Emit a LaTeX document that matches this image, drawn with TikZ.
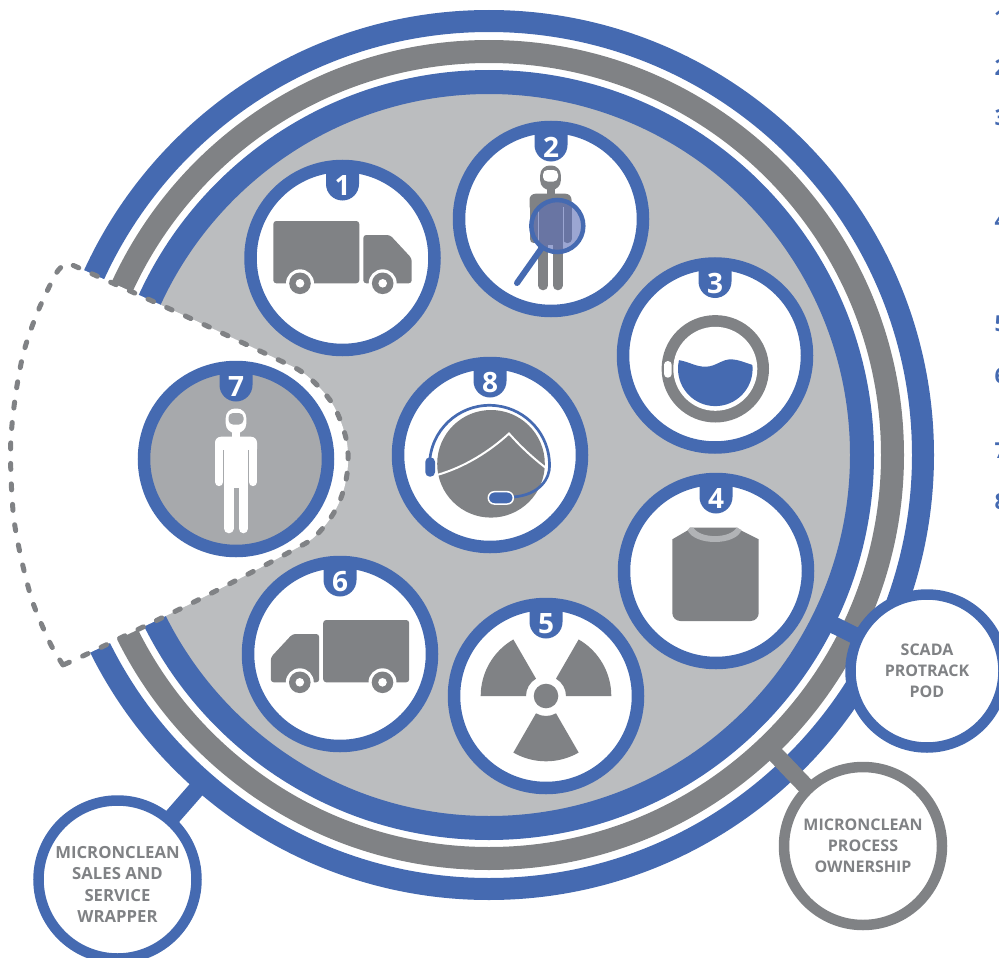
\documentclass[tikz,border=0pt]{standalone}
\usepackage{fontspec}
\setmainfont{Open Sans}
\usetikzlibrary{calc}
\definecolor{mblue}{HTML}{456AB1}
\definecolor{mgray}{HTML}{808285}
\definecolor{mfill}{HTML}{BBBDBF}
\definecolor{mdisc}{HTML}{A7A9AC}
\definecolor{mcollar}{HTML}{B1B3B6}
\definecolor{mlens}{HTML}{5C6EB7}
\tikzset{
  stage/.style={circle,draw=mblue,line width=12.5pt,fill=white,minimum size=184pt,inner sep=0pt,outer sep=0pt},
  sat/.style={circle,line width=10.5pt,fill=white,inner sep=0pt,outer sep=0pt},
  sattext/.style={text=mgray,align=center,inner sep=0pt,font=\fontsize{16}{21.2}\selectfont\bfseries},
  bar/.style={line width=17pt},
  tabnum/.style={text=white,font=\fontsize{28}{28}\selectfont\bfseries,inner sep=0pt},
  sidenum/.style={text=mblue,font=\fontsize{22}{22}\selectfont\bfseries,inner sep=0pt,anchor=west},
  cutline/.style={draw=mgray,line width=5pt,line cap=round,dash pattern=on 6pt off 14.5pt,fill=white}
}
\newcommand{\truckicon}[3]{%
  \begin{scope}[shift={(#1,#2)},xscale=#3]
    \fill[mgray,rounded corners=3pt] (-69.2,-37) rectangle (16.8,25.3);
    \fill[mgray,rounded corners=3pt] (20.8,-23) -- (47.5,-23) -- (69.2,0.3) -- (69.2,25.3) -- (20.8,25.3) -- cycle;
    \foreach \wx in {-42.5,40.2}{
      \fill[white] (\wx,25.3) circle[radius=14];
      \fill[mgray] (\wx,25.3) circle[radius=10.8];
      \fill[white] (\wx,25.3) circle[radius=4.3];
    }
  \end{scope}
}
\newcommand{\stagetab}[3]{%
  \fill[mblue] ($(#1)+(-16.5,-90)$) -- ($(#1)+(-16.5,-74)$) arc[start angle=180,end angle=0,radius=16.5] -- ($(#1)+(16.5,-90)$) -- cycle;
  \node[tabnum] (#2) at ($(#1)+(0,-72)$) {#3};
}
\newcommand{\personicon}[4]{%
  \begin{scope}[shift={(#1,#2)}]
    \fill[#3,rounded corners=9.5pt] (-10.3,-50.5) rectangle (10.3,-26);
    \fill[#3] (-4,-30) rectangle (4,-20);
    \fill[#3,rounded corners=6pt] (-21,-22.3) rectangle (21,-4);
    \fill[#3] (-12.2,-22) rectangle (12.2,29);
    \draw[#3,line width=8.3pt,line cap=round] (-16.85,-12) -- (-16.85,23) (16.85,-12) -- (16.85,23);
    \draw[#3,line width=9.6pt,line cap=round] (-7.3,26) -- (-7.3,69.5) (7.3,26) -- (7.3,69.5);
    \fill[#4,rounded corners=4.5pt] (-7.5,-46) rectangle (7.5,-34.5);
    \draw[#4,line width=.8pt] (-12.6,-9) -- (-12.6,26) (12.6,-9) -- (12.6,26);
  \end{scope}
}
\begin{document}
\begin{tikzpicture}[x=1pt,y=1pt,yscale=-1]
\useasboundingbox (0,0) rectangle (999,958);
\coordinate (hub) at (489,455);
% rings
\fill[mfill] (hub) circle[radius=362];
\draw[mblue,line width=24pt] (hub) circle[radius=373];
\draw[mgray,line width=23pt] (hub) circle[radius=403.5];
\draw[mblue,line width=22pt] (hub) circle[radius=434];
% cut-out sector
\draw[cutline]
  plot[smooth] coordinates {(63,665) (50,643) (33,603) (22,562) (14,520) (11,477) (11,437) (16,392) (24,351) (38,311) (57,272) (68,263)}
  -- plot[smooth,tension=.55] coordinates {(68,263) (150,300) (207,326) (283,362) (302,372) (318,386) (332,403) (341,422) (347,443) (348,464) (345,485) (338,505) (327,523) (312,539) (295,549) (256,570) (198,600) (141,628) (85,655) (63,665)}
  -- cycle;
% stages
\node[stage] (c1) at (342.5,258) {};
\node[stage] (c2) at (551,219) {};
\node[stage] (c3) at (715,355.5) {};
\node[stage] (c4) at (716,571) {};
\node[stage] (c5) at (546,696) {};
\node[stage] (c6) at (340,654) {};
\node[stage,fill=mdisc] (c7) at (236,459) {};
\node[stage] (c8) at (490,455) {};
% 1 and 6 trucks
\truckicon{342.5}{258}{1}
\truckicon{340}{657}{-1}
% 2 inspection
\personicon{550.5}{216}{mgray}{white}
\fill[mlens,opacity=.61] (557.3,226) circle[radius=26];
\draw[mblue,line width=4.5pt] (557.3,226) circle[radius=26];
\draw[mblue,line width=6pt,line cap=round] (541,249) -- (517,283);
% 3 washer
\fill[mgray] (715.3,368.8) circle[radius=53.7];
\fill[white] (715.3,368.8) circle[radius=42];
\begin{scope}
  \clip (715.3,368.8) circle[radius=37.3];
  \fill[mblue] (670,360) -- (678.3,360) .. controls (690,362) and (696,367) .. (706,366.7) .. controls (716,366.5) and (722,359) .. (731.7,359.3) .. controls (738,359.5) and (746,363) .. (752.7,365) -- (760,365) -- (760,415) -- (670,415) -- cycle;
\end{scope}
\fill[white,rounded corners=3.8pt] (664,361) rectangle (671.7,377.7);
% 4 shirt
\fill[mgray] (672.3,539.3) -- (688.3,530) -- (690,527.5) -- (737,527.5) -- (740,530) -- (758.7,539.3) -- (758.7,613) arc[start angle=0,end angle=90,radius=8] -- (680.3,621) arc[start angle=90,end angle=180,radius=8] -- cycle;
\fill[mcollar] (687.5,530) .. controls (694,546) and (736,546) .. (741.5,530) -- (736.7,527.5) .. controls (730,539) and (700,539) .. (693.3,527.5) -- (690,527.5) -- cycle;
% 5 radiation
\begin{scope}[shift={(546,696)}]
  \foreach \a in {60,180,300}{
    \fill[mgray] (\a:20) -- (\a:65.3) arc[start angle=\a,end angle=\a+60,radius=65.3] -- (\a+60:20) arc[start angle=\a+60,end angle=\a,radius=20] -- cycle;
  }
  \fill[mgray] (0,0) circle[radius=12.3];
\end{scope}
% 7 person
\personicon{236}{459}{white}{mdisc}
% 8 headset
\fill[mgray] (491,463.8) circle[radius=53.8];
\draw[white,line width=2pt] (437,475) .. controls (465,467) and (490,451) .. (509,433.5) .. controls (521,447) and (533,458) .. (546,468);
\draw[mblue,line width=2.7pt] (430,458) arc[start angle=187,end angle=360,radius=60] .. controls (550,478) and (540,495) .. (513,497);
\fill[mblue,rounded corners=4.5pt] (425.3,457.3) rectangle (435,476.7);
\draw[white,fill=mblue,line width=1.5pt,rounded corners=6pt] (488.3,491.7) rectangle (513.3,504);
% number tabs
\stagetab{c1}{t1}{1}
\stagetab{c2}{t2}{2}
\stagetab{c3}{t3}{3}
\stagetab{c4}{t4}{4}
\stagetab{c5}{t5}{5}
\stagetab{c6}{t6}{6}
\stagetab{c7}{t7}{7}
\stagetab{c8}{t8}{8}
% satellites
\node[sat,draw=mblue,minimum size=153pt] (scada) at (927,671) {};
\node[sat,draw=mgray,minimum size=158pt] (process) at (863,846) {};
\node[sat,draw=mblue,minimum size=158pt] (sales) at (117.5,879.5) {};
\node[sattext] (scadatext) at (927,671) {SCADA\\PROTRACK\\POD};
\node[sattext] (processtext) at (863,846) {MICRONCLEAN\\PROCESS\\OWNERSHIP};
\node[sattext,font=\fontsize{16.7}{21.5}\selectfont\bfseries] (salestext) at (117.5,884.5) {MICRONCLEAN\\SALES AND\\SERVICE\\WRAPPER};
\draw[bar,mblue] ($(hub)!375pt!(scada)$) -- (scada);
\draw[bar,mgray] ($(hub)!405pt!(process)$) -- (process);
\draw[bar,mblue] ($(hub)!430pt!(sales)$) -- (sales);
% list numbers cut by the page edge
\node[sidenum] (n1) at (994,18) {1};
\node[sidenum] (n2) at (994.5,68) {2};
\node[sidenum] (n3) at (994.5,118) {3};
\node[sidenum] (n4) at (994.5,221) {4};
\node[sidenum] (n5) at (994.5,324) {5};
\node[sidenum] (n6) at (994.5,376) {6};
\node[sidenum] (n7) at (994.5,451) {7};
\node[sidenum] (n8) at (994.5,502) {8};
\end{tikzpicture}
\end{document}
